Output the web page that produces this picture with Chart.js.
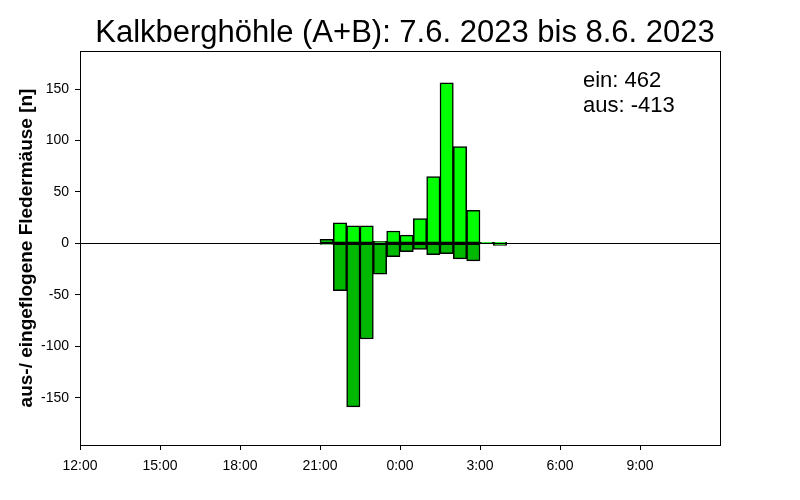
<!DOCTYPE html>
<html>
<head>
<meta charset="utf-8">
<script src="https://cdn.jsdelivr.net/npm/chart.js@4"></script>
<style>
  html, body { margin: 0; padding: 0; background: #fff; }
  #wrap { width: 800px; height: 500px; }
</style>
</head>
<body>
<div id="wrap"><canvas id="chart" width="800" height="500"></canvas></div>
<script>
// half hour bins (start time)
const binLabels = ['21:00', '21:30', '22:00', '22:30', '23:00', '23:30', '0:00', '0:30', '1:00', '1:30', '2:00', '2:30', '3:00', '3:30'];
const einValues = [4, 20, 17, 17, 2, 12, 8, 24, 65, 156, 94, 32, 1, 1];
const ausValues = [-1, -46, -159, -93, -30, -13, -8, -6, -11, -10, -15, -17, 0, -2];
const xTickLabels = ['12:00', '15:00', '18:00', '21:00', '0:00', '3:00', '6:00', '9:00'];
const yTickValues = [-150, -100, -50, 0, 50, 100, 150];
const titleText = 'Kalkberghöhle (A+B): 7.6. 2023 bis 8.6. 2023';
const summaryLines = ['ein: 462', 'aus: -413'];

const FONT = "Arial, 'Liberation Sans', sans-serif";

// hours since 12:00
function hoursFrom12(label) {
    const [h, m] = label.split(':').map(Number);
    return ((h - 12 + 24) % 24) + m / 60;
}

const einPoints = einValues.map((v, i) => ({ x: hoursFrom12(binLabels[i]) + 0.25, y: v }));
const ausPoints = ausValues.map((v, i) => ({ x: hoursFrom12(binLabels[i]) + 0.25, y: v }));

const framePlugin = {
    id: 'frame',
    afterDatasetsDraw(chart) {
        const { ctx, chartArea: a, scales } = chart;
        const y0 = Math.round(scales.y.getPixelForValue(0)) + 0.5;
        ctx.save();
        ctx.strokeStyle = '#000';
        ctx.lineWidth = 1;
        ctx.beginPath();
        ctx.moveTo(a.left, y0);
        ctx.lineTo(a.right, y0);
        ctx.stroke();
        ctx.strokeRect(a.left + 0.5, a.top + 0.5, a.right - a.left, a.bottom - a.top);
        ctx.restore();
    },
    afterDraw(chart) {
        const { ctx } = chart;
        ctx.save();
        ctx.fillStyle = '#000';
        ctx.font = '31px ' + FONT;
        ctx.textAlign = 'center';
        ctx.textBaseline = 'alphabetic';
        ctx.fillText(titleText, 405, 42);
        ctx.font = '22px ' + FONT;
        ctx.textAlign = 'left';
        summaryLines.forEach((t, i) => ctx.fillText(t, 583, 87 + i * 25));
        ctx.restore();
    }
};

new Chart(document.getElementById('chart').getContext('2d'), {
    type: 'bar',
    data: {
        datasets: [
            {
                label: 'ein',
                data: einPoints,
                backgroundColor: '#00ff00',
                borderColor: '#000',
                borderWidth: 1.5,
                borderSkipped: false,
                barPercentage: 1,
                categoryPercentage: 1
            },
            {
                label: 'aus',
                data: ausPoints,
                backgroundColor: '#00b800',
                borderColor: '#000',
                borderWidth: 1.5,
                borderSkipped: false,
                barPercentage: 1,
                categoryPercentage: 1
            }
        ]
    },
    options: {
        responsive: false,
        animation: false,
        layout: { padding: { top: 51, right: 80, left: 0, bottom: 0 } },
        plugins: {
            legend: { display: false },
            tooltip: { enabled: false }
        },
        scales: {
            x: {
                type: 'linear',
                stacked: true,
                min: 0,
                max: 24,
                offset: false,
                afterBuildTicks: (scale) => {
                    scale.ticks = xTickLabels.map(l => ({ value: hoursFrom12(l) }));
                },
                afterFit: (scale) => { scale.height = 55; },
                grid: { offset: false, drawOnChartArea: false, drawTicks: true, tickLength: 5, color: '#000' },
                border: { display: true, color: '#000', width: 1 },
                ticks: {
                    color: '#000',
                    font: { family: FONT, size: 14 },
                    padding: 8,
                    maxRotation: 0,
                    autoSkip: false,
                    callback: (v, i) => xTickLabels[i]
                }
            },
            y: {
                stacked: true,
                min: -196,
                max: 187,
                afterBuildTicks: (scale) => {
                    scale.ticks = yTickValues.map(v => ({ value: v }));
                },
                afterFit: (scale) => { scale.width = 80; },
                grid: { drawOnChartArea: false, drawTicks: true, tickLength: 5, color: '#000' },
                border: { display: true, color: '#000', width: 1 },
                ticks: {
                    color: '#000',
                    font: { family: FONT, size: 14 },
                    padding: 6
                },
                title: {
                    display: true,
                    text: 'aus-/ eingeflogene Fledermäuse [n]',
                    color: '#000',
                    font: { family: FONT, size: 19, weight: 'bold' },
                    padding: { top: 15, bottom: 0 }
                }
            }
        }
    },
    plugins: [framePlugin]
});
</script>
</body>
</html>
